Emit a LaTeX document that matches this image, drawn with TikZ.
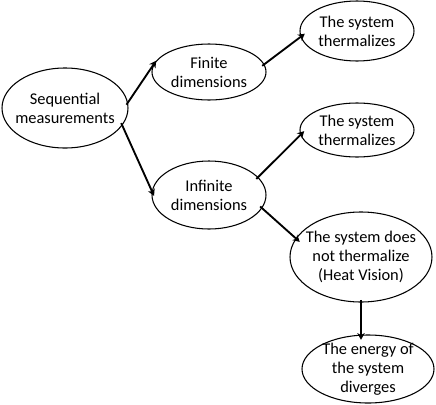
\documentclass[tikz,border=0pt]{standalone}
\usepackage{fontspec}
\setmainfont{Carlito}
\usepackage{tikz}
\usetikzlibrary{shapes.geometric, arrows.meta, positioning}
\tikzset{
	state/.style={ellipse, draw=black, thick, align=center, inner sep=-4pt, font=\fontsize{12.3}{14.3}\selectfont},
	flowarrow/.style={-{Stealth[length=5pt, width=5.5pt, inset=1.5pt]}, line width=1.4pt, shorten >=-4pt, shorten <=-2pt},
}
\begin{document}
\begin{tikzpicture}[x=0.75pt, y=-0.75pt]
	\useasboundingbox (0,0) rectangle (436,404);
	% ellipses
	\node[state, minimum width=126*0.75pt, minimum height=80*0.75pt] (seq) at (65,108) {Sequential\\measurements};
	\node[state, minimum width=114*0.75pt, minimum height=56*0.75pt] (fin) at (209,72) {Finite\\dimensions};
	\node[state, minimum width=114*0.75pt, minimum height=68*0.75pt] (inf) at (209,195) {Infinite\\dimensions};
	\node[state, minimum width=114*0.75pt, minimum height=60*0.75pt] (therma) at (357,31) {The system\\thermalizes};
	\node[state, minimum width=114*0.75pt, minimum height=54*0.75pt] (thermb) at (357,130) {The system\\thermalizes};
	\node[state, minimum width=142*0.75pt, minimum height=90*0.75pt] (nottherm) at (361,257) {The system does\\not thermalize\\(Heat Vision)};
	\node[state, minimum width=132*0.75pt, minimum height=68*0.75pt] (energy) at (368,369) {The energy of\\the system\\diverges};
	% arrows
	\draw[flowarrow] (seq.5) -- (fin.173);
	\draw[flowarrow] (fin.8) -- (therma.186);
	\draw[flowarrow] (seq.-17) -- (inf.176);
	\draw[flowarrow] (inf.20) -- (thermb.185);
	\draw[flowarrow] (inf.-14) -- (nottherm.164);
	\draw[flowarrow] (nottherm.south) -- (nottherm.south |- energy.north);
\end{tikzpicture}
\end{document}
